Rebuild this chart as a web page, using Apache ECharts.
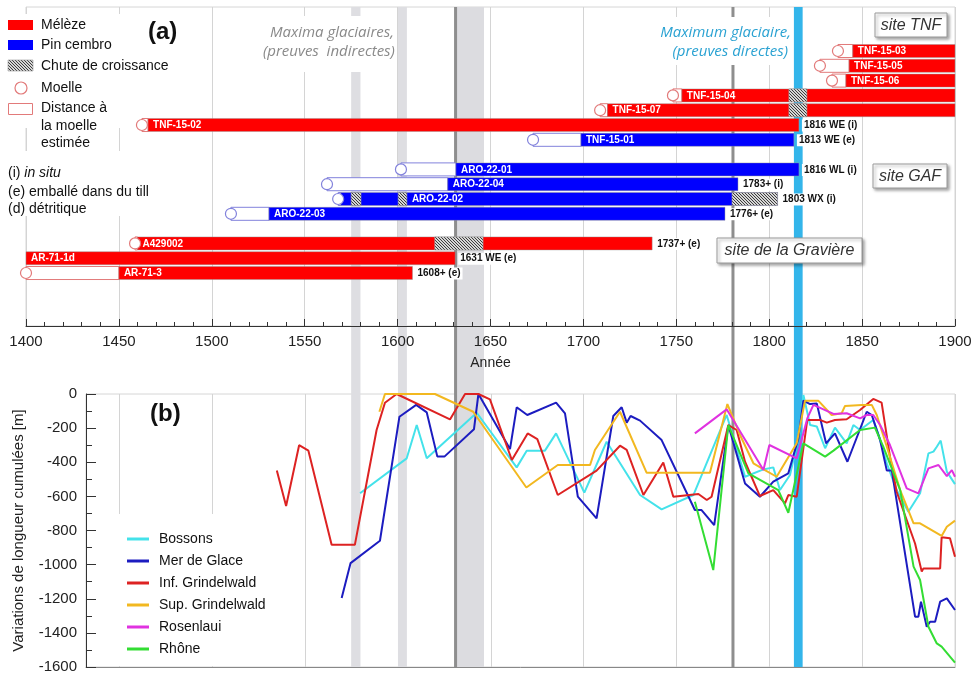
<!DOCTYPE html>
<html>
<head>
<meta charset="utf-8">
<script src="https://cdn.jsdelivr.net/npm/echarts@6/dist/echarts.min.js"></script>
<style>html,body{margin:0;padding:0;background:#fff}#c{width:973px;height:675px}</style>
</head>
<body>
<div id="c"></div>
<script>
// ---------- DATA: panel (a) ----------
const sampleNames   = ['TNF-15-03','TNF-15-05','TNF-15-06','TNF-15-04','TNF-15-07','TNF-15-02','TNF-15-01','ARO-22-01','ARO-22-04','ARO-22-02','ARO-22-03','A429002','AR-71-1d','AR-71-3'];
const sampleRows    = [0,1,2,3,4,5,6,8,9,10,11,13,14,15];
const sampleSpecies = ['L','L','L','L','L','L','P','P','P','P','P','L','L','L'];
const pithYears     = [1837,1827.3,1833.8,1748.2,1709,1462.4,1672.9,1601.8,1562,1568,1510.3,1458.7,null,1400];
const ringStarts    = [1845,1843,1841.3,1753,1713,1465.7,1698.7,1631.4,1627,1569.5,1530.8,1460,1400,1450];
const ringEnds      = [1900,1900,1900,1900,1900,1816,1813.3,1816,1783.2,1804.5,1776.2,1737,1631,1608];
const labelStarts   = [1845,1843,1841.3,1753,1713,1465.7,1698.7,1631.4,1627,1605,1530.8,1460,1400,1450];
const endLabels     = [null,null,null,null,null,'1816 WE (i)','1813 WE (e)','1816 WL (i)','1783+ (i)','1803 WX (i)','1776+ (e)','1737+ (e)','1631 WE (e)','1608+ (e)'];
const hatchSamples  = ['TNF-15-04','TNF-15-07','ARO-22-02','ARO-22-02','ARO-22-02','A429002'];
const hatchStarts   = [1810.6,1810.6,1575,1600.3,1780,1620];
const hatchEnds     = [1820.3,1820.3,1580.3,1605,1804.5,1646];

// shaded periods and marker lines (years)
const bandStarts = [1575,1600.2,1631,1813.3];
const bandEnds   = [1580,1605,1646.5,1818];
const bandColors = ['#dedee2','#dedee2','#dcdce0','#33b5ea'];
const markerYears = [1631.2,1780.5];
const lowerGridYears = [1450,1500,1550,1600,1650,1700,1750,1800,1850,1900];

// ---------- DATA: panel (b) ----------
const bossons = [[1579.8,-582],[1604.9,-377],[1610.3,-182],[1615.7,-377],[1642.6,-110],[1664.1,-430],[1669.5,-332],[1679.3,-332],[1685.3,-231],[1700.5,-578],[1712.5,-280],[1730.5,-592],[1742.1,-676],[1759.2,-592],[1777.1,-123],[1787,-485],[1796.9,-442],[1802.2,-430],[1805.8,-563],[1811.2,-475],[1816.6,-211],[1818.4,-6],[1822,-182],[1825.6,-190],[1830.1,-318],[1835.4,-197],[1841.7,-289],[1845.3,-182],[1848.9,-211],[1856,-152],[1859.2,-250],[1863.3,-406],[1868.6,-563],[1874.9,-690],[1881.2,-582],[1885.7,-348],[1888.4,-338],[1890.2,-309],[1892.3,-273],[1895.6,-455],[1900,-528]];
const merDeGlace = [[1569.9,-1196],[1574.7,-991],[1590.5,-860],[1601,-133],[1610,-64],[1615.7,-108],[1621.4,-367],[1625.2,-367],[1641.1,-207],[1643.5,0],[1660.5,-323],[1664.1,-78],[1669.8,-123],[1685.3,-51],[1690.1,-113],[1697,-602],[1707.1,-729],[1716.1,-129],[1720.6,-78],[1723.3,-168],[1725.4,-129],[1730.5,-156],[1742.1,-270],[1760,-680],[1763.6,-680],[1770.4,-768],[1778,-182],[1787,-524],[1795,-602],[1802.2,-514],[1810.3,-465],[1815.7,-260],[1818.4,-39],[1822,-59],[1825.6,-55],[1830.6,-289],[1835.4,-231],[1842.1,-397],[1852.5,-104],[1855.2,-123],[1859.7,-270],[1863.3,-449],[1866,-449],[1878.5,-1305],[1880.3,-1305],[1881.7,-1217],[1884.8,-1364],[1886.6,-1335],[1889.3,-1335],[1892,-1217],[1895.6,-1198],[1900,-1266]];
const infGrindelwald = [[1535,-449],[1540,-656],[1547,-300],[1552,-332],[1564.5,-884],[1577,-884],[1588.7,-211],[1593.2,-51],[1599.5,0],[1628.2,-149],[1636.3,0],[1643.5,0],[1649.7,-31],[1661.5,-387],[1670,-231],[1675.2,-264],[1686.2,-592],[1707.1,-449],[1719.7,-303],[1723.3,-328],[1732.3,-592],[1743,-402],[1748.4,-602],[1761.9,-586],[1766.4,-621],[1769,-602],[1778,-182],[1782.5,-211],[1787,-397],[1795,-598],[1802.2,-563],[1808.5,-641],[1810.3,-592],[1814.8,-602],[1820.5,-152],[1827.3,-152],[1831,-168],[1835.4,-152],[1841.7,-148],[1848.9,-94],[1856,-29],[1860.5,-51],[1865,-367],[1868.6,-573],[1878.5,-876],[1882.1,-1041],[1883,-1022],[1892,-1022],[1892.8,-840],[1897.3,-846],[1900,-954]];
const supGrindelwald = [[1590.2,-104],[1593.2,0],[1620.1,0],[1640.7,-104],[1669.3,-548],[1686.2,-416],[1703.6,-416],[1706.2,-328],[1719.7,-104],[1734,-461],[1768.1,-461],[1777.5,-59],[1784.3,-240],[1791.5,-406],[1797.7,-446],[1804,-485],[1814.8,-289],[1819.3,-39],[1826.4,-39],[1833.6,-123],[1839,-113],[1840.8,-70],[1849.8,-64],[1855.2,-64],[1857.9,-123],[1863.3,-309],[1870.5,-563],[1877.7,-758],[1881.2,-758],[1892.8,-832],[1895.6,-778],[1900,-742]];
const rosenlaui = [[1760,-231],[1777.1,-90],[1796.9,-446],[1800.1,-299],[1814.8,-377],[1820.5,-143],[1823.8,-64],[1834.6,-117],[1841.7,-113],[1848.9,-143],[1852.5,-123],[1856,-123],[1859.7,-182],[1865,-299],[1874,-553],[1880.3,-582],[1885.7,-436],[1891.1,-416],[1895.6,-481],[1898.3,-446],[1900,-485]];
const rhone = [[1760,-631],[1769.9,-1032],[1778,-182],[1788.8,-465],[1804.9,-563],[1810.3,-696],[1818.4,-289],[1830.1,-367],[1834.6,-332],[1848.9,-211],[1856.9,-197],[1861.4,-309],[1870.5,-563],[1877.7,-1012],[1881.2,-1090],[1885.7,-1364],[1890.2,-1462],[1892.8,-1481],[1900,-1575]];
const glacierNames  = ['Bossons','Mer de Glace','Inf. Grindelwald','Sup. Grindelwald','Rosenlaui','Rhône'];
const glacierData   = [bossons, merDeGlace, infGrindelwald, supGrindelwald, rosenlaui, rhone];
const glacierColors = ['#44e2ea','#1c1cc0','#dd2222','#f2b820','#e032e0','#33dd33'];
const yTicks = [0,-200,-400,-600,-800,-1000,-1200,-1400,-1600];

// ---------- rendering ----------
const FF = '"Liberation Sans", Arial, sans-serif';
const FI = '"Open Sans", "Liberation Sans", sans-serif';
const rowMin = -2.973, rowMax = 18.58;

const hatchCanvas = (function(){
  const c = document.createElement('canvas'); c.width = 3; c.height = 3;
  const g = c.getContext('2d');
  g.fillStyle = '#d6d6d6'; g.fillRect(0,0,3,3);
  g.fillStyle = '#3c3c3c';
  for (let i = 0; i < 3; i++) g.fillRect(i, i, 1, 1);
  return c;
})();
const hatchFill = () => ({image: hatchCanvas, repeat: 'repeat'});

function renderSample(params, api) {
  const i = params.dataIndex;
  const row = api.value(0);
  const p0 = api.coord([api.value(1), row]);
  const p1 = api.coord([api.value(2), row]);
  const h = api.size([0, 1])[1] * 0.88;
  const yc = p0[1], y0 = yc - h / 2;
  const larch = sampleSpecies[i] === 'L';
  const fill = larch ? '#ff0000' : '#0000ff';
  const edge = larch ? '#e27a7a' : '#8282dc';
  const children = [];
  let pc = null;
  if (pithYears[i] != null) {
    pc = api.coord([pithYears[i], row]);
    children.push({type: 'rect', shape: {x: pc[0], y: y0, width: p0[0] - pc[0], height: h},
      style: {fill: '#fff', stroke: edge, lineWidth: 1}});
  }
  children.push({type: 'rect', shape: {x: p0[0], y: y0, width: p1[0] - p0[0], height: h},
    style: {fill: fill, stroke: 'rgba(150,150,150,0.55)', lineWidth: 0.8}});
  hatchSamples.forEach((s, k) => {
    if (s === sampleNames[i]) {
      const a = api.coord([hatchStarts[k], row]), b = api.coord([hatchEnds[k], row]);
      children.push({type: 'rect', shape: {x: a[0], y: y0, width: b[0] - a[0], height: h},
        style: {fill: hatchFill(), stroke: '#9a9a9a', lineWidth: 0.6}});
    }
  });
  if (pc) children.push({type: 'circle', shape: {cx: pc[0], cy: yc, r: 5.5},
    style: {fill: '#fff', stroke: edge, lineWidth: 1.2}});
  const lx = api.coord([labelStarts[i], row])[0];
  children.push({type: 'text', style: {text: sampleNames[i], x: lx + 5, y: yc + 0.5, fill: '#fff',
    fontSize: 10, fontWeight: 'bold', fontFamily: FF, verticalAlign: 'middle', align: 'left'}});
  if (endLabels[i]) children.push({type: 'text', style: {text: endLabels[i], x: p1[0] + 3, y: yc + 0.5,
    fill: '#111', fontSize: 10, fontWeight: 'bold', fontFamily: FF, verticalAlign: 'middle', align: 'left',
    backgroundColor: '#fff', padding: [1, 2, 1, 2]}});
  return {type: 'group', children};
}

const chart = echarts.init(document.getElementById('c'), null, {renderer: 'canvas'});

const lineSeries = glacierNames.map((n, k) => ({
  name: n, type: 'line', xAxisIndex: 1, yAxisIndex: 1, data: glacierData[k],
  symbol: 'none', showSymbol: false, z: 2,
  lineStyle: {color: glacierColors[k], width: 2}, itemStyle: {color: glacierColors[k]}
}));

chart.setOption({
  animation: false,
  backgroundColor: '#fff',
  textStyle: {fontFamily: FF},
  grid: [
    {left: 26, right: 18, top: 7, height: 319, show: true, borderColor: '#d6d6d6', borderWidth: 1, backgroundColor: 'transparent', containLabel: false, outerBoundsMode: 'none'},
    {left: 86, right: 18, top: 394, height: 273, show: true, borderColor: '#d6d6d6', borderWidth: 1, backgroundColor: 'transparent', containLabel: false, outerBoundsMode: 'none'}
  ],
  xAxis: [
    {type: 'value', gridIndex: 0, min: 1400, max: 1900, interval: 50, z: 1,
      axisLine: {show: true, onZero: false, lineStyle: {color: '#333', width: 1}},
      axisTick: {show: true, inside: true, length: 7, lineStyle: {color: '#333'}},
      minorTick: {show: true, splitNumber: 5, length: 4, lineStyle: {color: '#333'}},
      splitLine: {show: true, lineStyle: {color: '#d4d4d4', width: 1}},
      axisLabel: {fontSize: 15, color: '#222', margin: 8, fontFamily: FF, formatter: v => String(v)},
      name: 'Année', nameLocation: 'middle', nameGap: 30,
      nameTextStyle: {fontSize: 14, color: '#222', fontFamily: FF}},
    {type: 'value', gridIndex: 1, min: 1432.3, max: 1900, z: 1,
      axisLine: {show: true, onZero: false, lineStyle: {color: '#888', width: 1}},
      axisTick: {show: false}, axisLabel: {show: false}, splitLine: {show: false}}
  ],
  yAxis: [
    {type: 'value', gridIndex: 0, inverse: true, min: rowMin, max: rowMax, show: false},
    {type: 'value', gridIndex: 1, min: -1600, max: 0, interval: 200, z: 1,
      axisLine: {show: true, lineStyle: {color: '#333', width: 1}},
      axisTick: {show: true, inside: true, length: 10, lineStyle: {color: '#333'}},
      minorTick: {show: true, splitNumber: 2, length: 6, lineStyle: {color: '#333'}},
      splitLine: {show: false},
      axisLabel: {fontSize: 15, color: '#222', margin: 9, fontFamily: FF,
        formatter: v => yTicks.indexOf(v) >= 0 ? String(v) : ''},
      name: 'Variations de longueur cumulées [m]', nameLocation: 'middle', nameGap: 60,
      nameTextStyle: {fontSize: 15, color: '#222', fontFamily: FF}}
  ],
  legend: {
    data: glacierNames, orient: 'vertical', left: 105, top: 514,
    padding: [18, 22, 10, 22], backgroundColor: '#fff',
    icon: 'rect', itemWidth: 22, itemHeight: 3, itemGap: 8,
    textStyle: {fontSize: 14, lineHeight: 14, color: '#111', fontFamily: FF, padding: [0, 0, 0, 5]},
    selectedMode: false
  },
  series: [
    {type: 'custom', xAxisIndex: 0, yAxisIndex: 0, z: 2,
      data: sampleRows.map((r, i) => [r, ringStarts[i], ringEnds[i]]),
      encode: {x: [1, 2], y: 0}, renderItem: renderSample}
  ].concat(lineSeries)
});

// ---------- overlays positioned through the axes ----------
const X = v => chart.convertToPixel({xAxisIndex: 0}, v);
const yTop = chart.convertToPixel({yAxisIndex: 0}, rowMin);
const yBot = chart.convertToPixel({yAxisIndex: 1}, -1600);
const yTop2 = chart.convertToPixel({yAxisIndex: 1}, 0);

const g = [];
bandStarts.forEach((s, k) => {
  g.push({type: 'rect', z: 0, z2: 1, silent: true,
    shape: {x: X(s), y: yTop, width: X(bandEnds[k]) - X(s), height: yBot - yTop},
    style: {fill: bandColors[k]}});
});
markerYears.forEach(v => {
  g.push({type: 'line', z: 0, z2: 2, silent: true,
    shape: {x1: X(v), y1: yTop, x2: X(v), y2: yBot}, style: {stroke: '#8e8e8e', lineWidth: 3}});
});
lowerGridYears.forEach(v => {
  g.push({type: 'line', z: 0, z2: 0, silent: true,
    shape: {x1: Math.round(X(v)) + 0.5, y1: yTop2, x2: Math.round(X(v)) + 0.5, y2: yBot},
    style: {stroke: '#d4d4d4', lineWidth: 1}});
});

// white masks behind annotation text
const mask = (x, y, w, h) => ({type: 'rect', z: 3, silent: true, shape: {x, y, width: w, height: h}, style: {fill: '#fff'}});
g.push(mask(0, 14, 126, 114));
g.push(mask(0, 151, 152, 65));
g.push(mask(252, 16, 144, 56));
g.push(mask(655, 17, 136, 48));

const txt = (text, x, y, opt) => Object.assign({type: 'text', z: 4, silent: true,
  style: Object.assign({text, x, y, fill: '#111', fontSize: 14, fontFamily: FF, verticalAlign: 'middle', align: 'left'}, opt || {})});

// panel labels
g.push(txt('(a)', 148, 32, {fontSize: 24, fontWeight: 'bold'}));
g.push(txt('(b)', 150, 414, {fontSize: 24, fontWeight: 'bold'}));

// legend (a)
g.push({type: 'rect', z: 4, shape: {x: 8, y: 20, width: 25, height: 10}, style: {fill: '#ff0000'}});
g.push({type: 'rect', z: 4, shape: {x: 8, y: 40, width: 25, height: 10}, style: {fill: '#0000ff'}});
g.push({type: 'rect', z: 4, shape: {x: 8, y: 60, width: 25, height: 11}, style: {fill: hatchFill(), stroke: '#999', lineWidth: 0.6}});
g.push({type: 'circle', z: 4, shape: {cx: 21, cy: 88, r: 6}, style: {fill: '#fff', stroke: '#e27a7a', lineWidth: 1.2}});
g.push({type: 'rect', z: 4, shape: {x: 8.5, y: 103.5, width: 24, height: 11}, style: {fill: '#fff', stroke: '#e27a7a', lineWidth: 1}});
g.push(txt('Mélèze', 41, 25));
g.push(txt('Pin cembro', 41, 45));
g.push(txt('Chute de croissance', 41, 66));
g.push(txt('Moelle', 41, 88));
g.push(txt('Distance à', 41, 108));
g.push(txt('la moelle', 41, 126));
g.push(txt('estimée', 41, 143));
g.push(txt('(i) {it|in situ}', 8, 173, {rich: {it: {fontStyle: 'italic', fontSize: 14, fontFamily: FF, fill: '#111'}}}));
g.push(txt('(e) emballé dans du till', 8, 192));
g.push(txt('(d) détritique', 8, 209));

// glacial maxima annotations
g.push(txt('Maxima glaciaires,', 270, 33, {fill: '#8a8a8a', fontStyle: 'italic', fontFamily: FI, fontSize: 15}));
g.push(txt('(preuves  indirectes)', 263, 52, {fill: '#8a8a8a', fontStyle: 'italic', fontFamily: FI, fontSize: 15}));
g.push(txt('Maximum glaciaire,', 791, 33, {fill: '#2aa2d2', fontStyle: 'italic', fontFamily: FI, fontSize: 15, align: 'right'}));
g.push(txt('(preuves directes)', 788, 52, {fill: '#2aa2d2', fontStyle: 'italic', fontFamily: FI, fontSize: 15, align: 'right'}));

// site boxes
const siteBox = (label, x, y, w, h) => {
  g.push({type: 'rect', z: 4, silent: true, shape: {x, y, width: w, height: h},
    style: {fill: '#fff', stroke: '#9a9a9a', lineWidth: 1, shadowBlur: 3, shadowOffsetX: 2, shadowOffsetY: 2, shadowColor: 'rgba(0,0,0,0.35)'}});
  g.push(txt(label, x + w / 2, y + h / 2 + 0.5, {align: 'center', fontStyle: 'italic', fontSize: 16, fill: '#333', z: 5}));
};
siteBox('site TNF', 875, 13, 72, 24);
siteBox('site GAF', 873, 164, 74, 24);
siteBox('site de la Gravière', 717, 238, 145, 25);

chart.setOption({graphic: g});
</script>
</body>
</html>
